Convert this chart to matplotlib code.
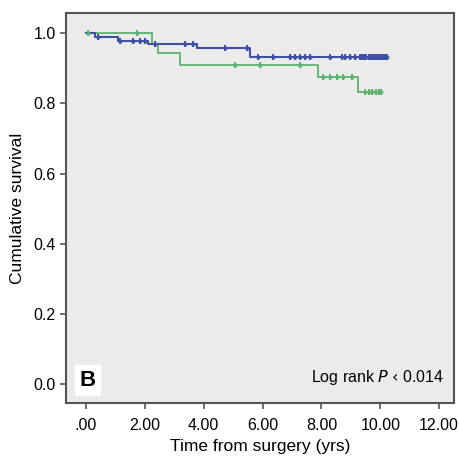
import matplotlib
matplotlib.use("Agg")
import matplotlib.pyplot as plt

# step curves: (time, survival) at each event, and censor times
green_t = [0.0, 2.24, 2.45, 3.2, 7.9, 9.25, 10.05]
green_s = [1.0, 0.969, 0.943, 0.909, 0.875, 0.832, 0.832]
green_cens_t = [0.07, 1.73, 5.07, 5.92, 7.28, 8.06, 8.3, 8.54, 8.74, 9.05,
                9.49, 9.6, 9.72, 9.85, 9.95, 10.02]

blue_t = [0.0, 0.3, 1.09, 2.1, 3.77, 5.58, 10.24]
blue_s = [1.0, 0.988, 0.979, 0.969, 0.957, 0.932, 0.932]
blue_cens_t = [0.41, 1.16, 1.6, 1.84, 2.0, 2.35, 3.37, 3.64, 4.73, 5.48,
               5.85, 6.36, 6.94, 7.11, 7.28, 7.45, 7.62, 8.3, 8.7, 8.81,
               8.98, 9.15, 9.3, 9.38, 9.45, 9.52, 9.6, 9.67, 9.74, 9.8,
               9.86, 9.92, 9.98, 10.04, 10.1, 10.16, 10.22]

x_ticks = [0, 2, 4, 6, 8, 10, 12]
x_labels = ['.00', '2.00', '4.00', '6.00', '8.00', '10.00', '12.00']
y_ticks = [0.0, 0.2, 0.4, 0.6, 0.8, 1.0]

GREEN = '#5cb36e'
BLUE = '#3f50a3'


def surv_at(ts, ss, t):
    val = ss[0]
    for ti, si in zip(ts, ss):
        if ti <= t:
            val = si
    return val


plt.rcParams['font.family'] = ['Liberation Sans', 'DejaVu Sans']
fig = plt.figure(figsize=(4.59, 4.57), dpi=100)
ax = fig.add_axes([0.1438, 0.118, 0.845, 0.853])
ax.set_facecolor('#ebebeb')

ax.step(green_t, green_s, where='post', color=GREEN, linewidth=1.3)
ax.step(blue_t, blue_s, where='post', color=BLUE, linewidth=1.5)
# censor marks drawn as small ticks with a dot, like the SPSS output
for ts, ss, cens, col in [(green_t, green_s, green_cens_t, GREEN),
                          (blue_t, blue_s, blue_cens_t, BLUE)]:
    ys = [surv_at(ts, ss, t) for t in cens]
    ax.plot(cens, ys, linestyle='none', marker='|', markersize=5,
            markeredgewidth=1.4, color=col)
    ax.plot(cens, ys, linestyle='none', marker='o', markersize=3,
            markeredgewidth=0, color=col, alpha=0.8)

ax.set_xlim(-0.68, 12.5)
ax.set_ylim(-0.054, 1.057)
ax.set_xticks(x_ticks)
ax.set_xticklabels(x_labels)
ax.set_yticks(y_ticks)
ax.set_yticklabels([f'{v:.1f}' for v in y_ticks])
ax.tick_params(labelsize=11.5, length=4, width=1.2, color='#555555')
ax.tick_params(axis='x', pad=7)
for sp in ax.spines.values():
    sp.set_color('#555555')
    sp.set_linewidth(1.5)

ax.set_xlabel('Time from surgery (yrs)', fontsize=12.5, labelpad=4)
ax.set_ylabel('Cumulative survival', fontsize=12.5, labelpad=6)

ax.text(0.035, 0.03, 'B', transform=ax.transAxes, fontsize=16,
        fontweight='bold', va='bottom', ha='left',
        bbox=dict(facecolor='white', edgecolor='none', pad=3.5))
ax.text(0.975, 0.04, r'Log rank $\it{P}$ ‹ 0.014', transform=ax.transAxes,
        fontsize=11.5, ha='right', va='bottom')

fig.savefig('out.png', dpi=100)
